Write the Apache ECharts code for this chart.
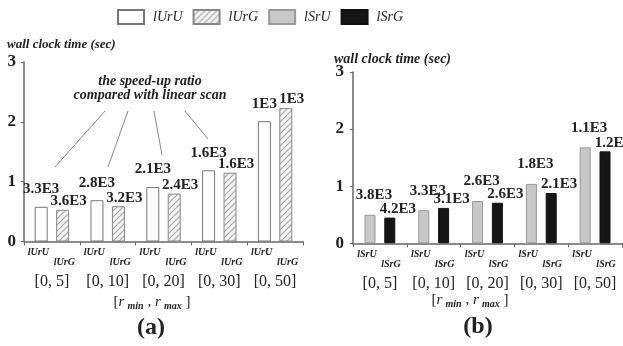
<!DOCTYPE html>
<html>
<head>
<meta charset="utf-8">
<script src="https://cdn.jsdelivr.net/npm/echarts@6/dist/echarts.min.js"></script>
<style>
  html, body {margin:0;padding:0;background:#fff;}
  #chart {width:623px;height:346px;}
</style>
</head>
<body>
<div id="chart"></div>
<script>
// data
var categories = ['[0, 5]', '[0, 10]', '[0, 20]', '[0, 30]', '[0, 50]'];
var yTicks = [0, 1, 2, 3];

var lUrU = [0.58, 0.69, 0.91, 1.19, 2.01];
var lUrG = [0.53, 0.59, 0.80, 1.15, 2.23];
var lSrU = [0.50, 0.58, 0.74, 1.04, 1.68];
var lSrG = [0.45, 0.62, 0.71, 0.88, 1.61];

// speed-up ratio texts above bars
var lUrUText = ['3.3E3', '2.8E3', '2.1E3', '1.6E3', '1E3'];
var lUrGText = ['3.6E3', '3.2E3', '2.4E3', '1.6E3', '1E3'];
var lSrUText = ['3.8E3', '3.3E3', '2.6E3', '1.8E3', '1.1E3'];
var lSrGText = ['4.2E3', '3.1E3', '2.6E3', '2.1E3', '1.2E3'];

var serif = '"Liberation Serif", "DejaVu Serif", serif';

// hatched fill for lUrG
function hatch() {
    var c = document.createElement('canvas');
    c.width = 6; c.height = 6;
    var ctx = c.getContext('2d');
    ctx.fillStyle = '#f4f4f4';
    ctx.fillRect(0, 0, 6, 6);
    ctx.strokeStyle = '#a8a8a8';
    ctx.lineWidth = 1.2;
    ctx.beginPath();
    ctx.moveTo(0, 6); ctx.lineTo(6, 0);
    ctx.moveTo(-3, 3); ctx.lineTo(3, -3);
    ctx.moveTo(3, 9); ctx.lineTo(9, 3);
    ctx.stroke();
    return {image: c, repeat: 'repeat'};
}

function valLabel(texts, dist, dx) {
    return {
        show: true, position: 'top', distance: dist, offset: [dx, 0],
        fontFamily: serif, fontWeight: 'bold', fontSize: 15, color: '#222',
        formatter: function (p) { return texts[p.dataIndex]; }
    };
}

function xAxisFor(idx, a, b, padA, padB) {
    return {
        type: 'category', gridIndex: idx, data: categories,
        axisLine: {lineStyle: {color: '#666', width: 1.5}},
        axisTick: {show: true, length: 4, lineStyle: {color: '#666'}},
        axisLabel: {
            margin: 6, interval: 0,
            formatter: function (v) { return '{u|' + a + '}\n{g|' + b + '}\n{c|' + v + '}'; },
            rich: {
                u: {fontFamily: serif, fontStyle: 'italic', fontWeight: 'bold', fontSize: 10, color: '#222', lineHeight: 10, padding: [0, padA, 0, 0]},
                g: {fontFamily: serif, fontStyle: 'italic', fontWeight: 'bold', fontSize: 10, color: '#222', lineHeight: 10, padding: [0, 0, 0, padB]},
                c: {fontFamily: serif, fontSize: 16, color: '#222', lineHeight: 28}
            }
        }
    };
}

function yAxisFor(idx, margin) {
    return {
        type: 'value', gridIndex: idx, min: yTicks[0], max: yTicks[yTicks.length - 1], interval: 1,
        splitLine: {show: false},
        axisLine: {show: true, lineStyle: {color: '#666', width: 1.5}},
        axisTick: {show: true, length: 3, lineStyle: {color: '#666'}},
        axisLabel: {margin: margin, fontFamily: serif, fontWeight: 'bold', fontSize: 17, color: '#222'}
    };
}

var rTitle = {
    r: {fontFamily: serif, fontStyle: 'italic', fontSize: 15, fill: '#222'},
    s: {fontFamily: serif, fontStyle: 'italic', fontWeight: 'bold', fontSize: 10, fill: '#222', padding: [8, 0, 0, 0]},
    p: {fontFamily: serif, fontSize: 15, fill: '#222'}
};
var rText = '{p|[}{r|r} {s|min}{p| , }{r|r} {s|max}{p| ]}';

var chart = echarts.init(document.getElementById('chart'));
var option = {
    backgroundColor: '#fff',
    animation: false,
    legend: {
        left: 117, top: 9, padding: 0, icon: 'rect', itemWidth: 26, itemHeight: 14, itemGap: 10,
        textStyle: {fontFamily: serif, fontStyle: 'italic', fontSize: 14, color: '#222', padding: [0, 0, 0, 4]},
        data: ['lUrU', 'lUrG', 'lSrU', 'lSrG']
    },
    grid: [
        {left: 24, top: 62, width: 279, height: 179.5},
        {left: 353, top: 72, width: 269, height: 171.3}
    ],
    xAxis: [xAxisFor(0, 'lUrU', 'lUrG', 27, 25), xAxisFor(1, 'lSrU', 'lSrG', 26, 22)],
    yAxis: [yAxisFor(0, 8), yAxisFor(1, 9)],
    series: [
        {name: 'lUrU', type: 'bar', xAxisIndex: 0, yAxisIndex: 0, data: lUrU, barWidth: 13, barGap: '65%',
         itemStyle: {color: '#fff', borderColor: '#777', borderWidth: 1}, label: valLabel(lUrUText, 10, 0)},
        {name: 'lUrG', type: 'bar', xAxisIndex: 0, yAxisIndex: 0, data: lUrG, barWidth: 13, barGap: '65%',
         itemStyle: {color: hatch(), borderColor: '#888', borderWidth: 1}, label: valLabel(lUrGText, 1, 6)},
        {name: 'lSrU', type: 'bar', xAxisIndex: 1, yAxisIndex: 1, data: lSrU, barWidth: 11, barGap: '80%',
         itemStyle: {color: '#c8c8c8', borderColor: '#999', borderWidth: 1}, label: valLabel(lSrUText, 12, 4)},
        {name: 'lSrG', type: 'bar', xAxisIndex: 1, yAxisIndex: 1, data: lSrG, barWidth: 11, barGap: '80%',
         itemStyle: {color: '#161616', borderColor: '#111', borderWidth: 1}, label: valLabel(lSrGText, 1, 8)}
    ],
    graphic: [
        {type: 'text', left: 7, top: 38, style: {text: 'wall clock time (sec)', font: 'italic bold 13px ' + serif, fill: '#222'}},
        {type: 'text', left: 334, top: 52, style: {text: 'wall clock time (sec)', font: 'italic bold 14px ' + serif, fill: '#222'}},
        {type: 'text', x: 150, y: 81, style: {text: 'the speed-up ratio', font: 'italic bold 14px ' + serif, fill: '#222', align: 'center', verticalAlign: 'middle'}},
        {type: 'text', x: 150, y: 95, style: {text: 'compared with linear scan', font: 'italic bold 14px ' + serif, fill: '#222', align: 'center', verticalAlign: 'middle'}},
        {type: 'line', shape: {x1: 105, y1: 111, x2: 55, y2: 167}, style: {stroke: '#888', lineWidth: 1}},
        {type: 'line', shape: {x1: 128, y1: 111, x2: 108, y2: 167}, style: {stroke: '#888', lineWidth: 1}},
        {type: 'line', shape: {x1: 154, y1: 111, x2: 162, y2: 155}, style: {stroke: '#888', lineWidth: 1}},
        {type: 'line', shape: {x1: 185, y1: 111, x2: 208, y2: 139}, style: {stroke: '#888', lineWidth: 1}},
        {type: 'text', x: 152, y: 302, style: {text: rText, rich: rTitle, align: 'center', verticalAlign: 'middle'}},
        {type: 'text', x: 470, y: 300, style: {text: rText, rich: rTitle, align: 'center', verticalAlign: 'middle'}},
        {type: 'text', x: 151, y: 328, style: {text: '(a)', font: 'bold 24px ' + serif, fill: '#222', align: 'center', verticalAlign: 'middle'}},
        {type: 'text', x: 478, y: 327, style: {text: '(b)', font: 'bold 24px ' + serif, fill: '#222', align: 'center', verticalAlign: 'middle'}}
    ]
};
chart.setOption(option);
</script>
</body>
</html>
